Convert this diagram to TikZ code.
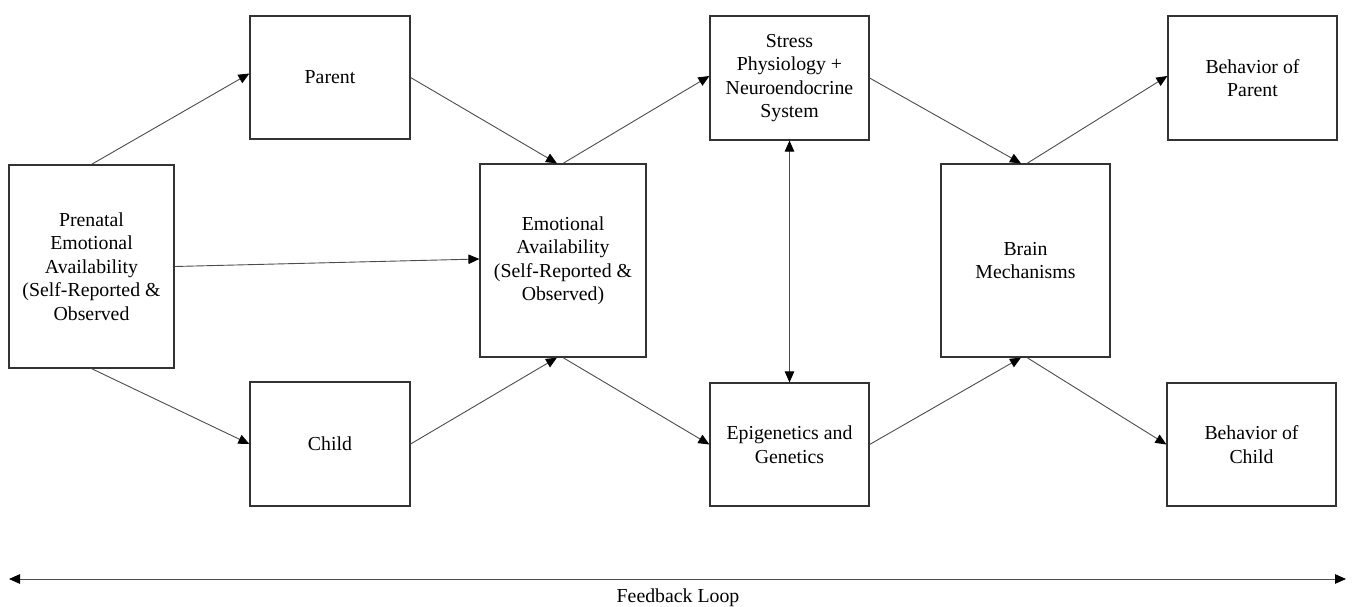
\documentclass[tikz,border=0pt]{standalone}
\usepackage{fontspec}
\setmainfont{Liberation Serif}
\usetikzlibrary{arrows.meta}
\begin{document}
\begin{tikzpicture}[x=1pt,y=-1pt,
  box/.style={draw=black!80,line width=1.2pt,inner sep=0pt,align=center,
    font=\fontsize{19.8}{23.5}\selectfont},
  tip/.tip={Triangle[length=11pt,width=9.5pt,color=black]},
  conn/.style={draw=black!70,line width=0.9pt,-tip},
  both/.style={draw=black!70,line width=0.9pt,tip-tip}]
\useasboundingbox (0,0) rectangle (1353,607);
\node[box,minimum width=165pt,minimum height=203pt] (pre) at (91.5,266.5)
  {Prenatal\\Emotional\\Availability\\(Self-Reported \&\\Observed};
\node[box,minimum width=160pt,minimum height=123pt] (parent) at (330,77.5) {Parent};
\node[box,minimum width=160pt,minimum height=124pt] (child) at (330,444) {Child};
\node[box,minimum width=166pt,minimum height=193pt] (ea) at (563,260.5)
  {Emotional\\Availability\\(Self-Reported \&\\Observed)};
\node[box,minimum width=159pt,minimum height=124pt] (stress) at (789.5,78)
  {Stress\\Physiology +\\Neuroendocrine\\System};
\node[box,minimum width=159pt,minimum height=123pt] (epi) at (789.5,444.5)
  {Epigenetics and\\Genetics};
\node[box,minimum width=169pt,minimum height=193pt] (brain) at (1025.5,260.5)
  {Brain\\Mechanisms};
\node[box,minimum width=169pt,minimum height=124pt] (bop) at (1252.5,78)
  {Behavior of\\Parent};
\node[box,minimum width=169pt,minimum height=123pt] (boc) at (1251.5,444.5)
  {Behavior of\\Child};
\coordinate (fl) at (9,579);
\coordinate (fr) at (1346,579);
\node[font=\fontsize{19.8}{23.5}\selectfont] (fbl) at (678,598) {Feedback Loop};
\draw[conn] (pre.north) -- ([yshift=4pt]parent.west);
\draw[conn] (pre.east) -- ([yshift=1.5pt]ea.west);
\draw[conn] (pre.south) -- (child.west);
\draw[conn] (parent.east) -- ([xshift=-6pt]ea.north);
\draw[conn] (child.east) -- ([xshift=-6pt]ea.south);
\draw[conn] (ea.north) -- ([yshift=2pt]stress.west);
\draw[conn] (ea.south) -- (epi.west);
\draw[both] (stress.south) -- (epi.north);
\draw[conn] (stress.east) -- ([xshift=-4.5pt]brain.north);
\draw[conn] (epi.east) -- ([xshift=-4.5pt]brain.south);
\draw[conn] ([xshift=1.5pt]brain.north) -- ([yshift=2pt]bop.west);
\draw[conn] ([xshift=1.5pt]brain.south) -- (boc.west);
\draw[both] (fl) -- (fr);
\end{tikzpicture}
\end{document}
